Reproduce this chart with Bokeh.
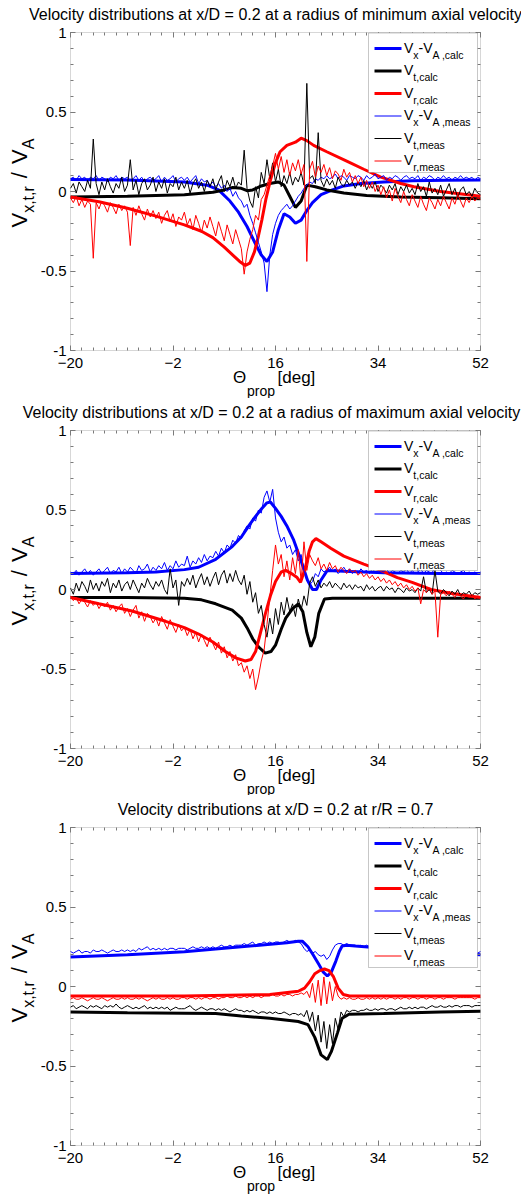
import math
from bokeh.plotting import figure
from bokeh.models import (Range1d, Label, FixedTicker, LinearAxis, BoxAnnotation,
                          CustomJSTickFormatter)
from bokeh.layouts import column
from bokeh.embed import file_html
from bokeh.resources import INLINE

# ---------------- data ----------------
TITLES = [
    "Velocity distributions at x/D = 0.2 at a radius of minimum axial velocity",
    "Velocity distributions at x/D = 0.2 at a radius of maximum axial velocity",
    "Velocity distributions at x/D = 0.2 at r/R = 0.7",
]
X_TICKS = [-20, -2, 16, 34, 52]
Y_TICKS = [-1, -0.5, 0, 0.5, 1]
Y_TICK_LABELS = ["-1", "-0.5", "0", "0.5", "1"]

# measurement grid (theta_prop, deg)
theta_meas = [-20 + 0.5 * i for i in range(145)]

# ---- panel 1 : radius of minimum axial velocity ----
p1_vx_calc_x = [-20, -10, 0, 4, 6, 8, 9.5, 11, 12.5, 13.5, 14.5, 15.5, 16.5, 17.5, 18.5, 19.5, 20.5, 21.5, 22.5, 24, 26, 28, 31, 35, 40, 46, 52]
p1_vx_calc_y = [0.075, 0.072, 0.06, 0.04, 0.01, -0.06, -0.13, -0.22, -0.33, -0.40, -0.44, -0.38, -0.24, -0.14, -0.16, -0.20, -0.18, -0.12, -0.07, -0.02, 0.01, 0.035, 0.05, 0.06, 0.068, 0.07, 0.072]
p1_vt_calc_x = [-20, -10, 0, 5, 7, 8.5, 10, 11, 12, 13.5, 15, 16.5, 17.5, 18.5, 19.5, 20.5, 21.5, 23, 25, 28, 32, 38, 45, 52]
p1_vt_calc_y = [-0.035, -0.03, -0.02, -0.005, 0.01, 0.025, 0.02, 0.005, 0.01, 0.035, 0.05, 0.06, 0.04, -0.03, -0.10, -0.06, 0.04, 0.03, 0.01, -0.01, -0.025, -0.035, -0.04, -0.045]
p1_vr_calc_x = [-20, -15, -10, -5, 0, 3, 5, 7, 8.5, 9.7, 10.7, 11.5, 12.3, 13, 13.6, 14.3, 15.1, 16, 16.8, 18, 19.5, 20.5, 21.5, 22.7, 25, 28.6, 31.5, 34.5, 38, 40.3, 45, 52]
p1_vr_calc_y = [-0.035, -0.065, -0.105, -0.155, -0.21, -0.25, -0.29, -0.35, -0.40, -0.44, -0.465, -0.45, -0.38, -0.28, -0.18, -0.05, 0.07, 0.18, 0.25, 0.29, 0.31, 0.335, 0.32, 0.29, 0.25, 0.19, 0.14, 0.09, 0.05, 0.03, 0.0, -0.03]
p1_vx_meas = [
    0.08, 0.09, 0.07, 0.10, 0.08, 0.09, 0.06, 0.09, 0.08, 0.10,
    0.07, 0.09, 0.08, 0.06, 0.09, 0.08, 0.10, 0.07, 0.09, 0.08,
    0.09, 0.07, 0.08, 0.10, 0.07, 0.09, 0.06, 0.08, 0.09, 0.07,
    0.08, 0.10, 0.06, 0.09, 0.07, 0.08, 0.10, 0.06, 0.08, 0.09,
    0.07, 0.09, 0.06, 0.08, 0.10, 0.05, 0.08, 0.06, 0.07, 0.04,
    0.06, 0.03, 0.05, 0.02, 0.04, 0.00, 0.02, -0.03, 0.00, -0.04,
    -0.06, -0.10, -0.08, -0.15, -0.20, -0.26, -0.32, -0.38, -0.45, -0.63,
    -0.40, -0.27, -0.20, -0.15, -0.12, -0.10, -0.08, -0.11, -0.09, -0.06,
    -0.03, -0.01, 0.02, 0.04, 0.06, 0.05, 0.08, 0.07, 0.09, 0.08,
    0.10, 0.08, 0.09, 0.11, 0.08, 0.10, 0.09, 0.07, 0.10, 0.09,
    0.08, 0.10, 0.09, 0.07, 0.10, 0.08, 0.09, 0.11, 0.08, 0.09,
    0.10, 0.07, 0.09, 0.08, 0.10, 0.09, 0.07, 0.09, 0.10, 0.08,
    0.09, 0.08, 0.10, 0.07, 0.09, 0.08, 0.10, 0.09, 0.07, 0.09,
    0.08, 0.10, 0.08, 0.09, 0.07, 0.09, 0.08, 0.10, 0.08, 0.09,
    0.08, 0.09, 0.07, 0.09, 0.08]
p1_vt_meas = [
    0.02, 0.05, -0.01, 0.06, 0.03, 0.00, 0.07, 0.02, 0.33, 0.05,
    -0.02, 0.06, 0.01, 0.08, 0.03, -0.01, 0.05, 0.02, 0.09, 0.00,
    0.04, 0.20, 0.01, 0.07, -0.02, 0.05, 0.08, 0.01, 0.04, 0.09,
    0.00, 0.06, 0.02, 0.08, -0.01, 0.05, 0.03, 0.09, 0.01, 0.06,
    0.02, 0.07, -0.01, 0.05, 0.08, 0.02, 0.06, 0.00, 0.07, 0.03,
    0.08, 0.01, 0.06, 0.10, 0.00, 0.07, 0.03, 0.09, 0.02, 0.06,
    0.04, 0.26, 0.02, -0.06, -0.10, 0.03, -0.04, 0.12, 0.05, 0.20,
    0.08, 0.18, 0.06, 0.14, 0.03, 0.10, 0.05, 0.12, 0.04, 0.09,
    0.06, 0.12, 0.04, 0.68, 0.08, 0.10, 0.05, 0.37, 0.07, 0.03,
    0.08, 0.04, 0.07, 0.02, 0.09, 0.05, 0.03, 0.07, 0.04, 0.06,
    0.02, 0.06, 0.03, 0.07, 0.01, 0.05, 0.02, 0.06, 0.00, 0.04,
    0.02, -0.01, 0.04, 0.01, 0.05, -0.02, 0.03, 0.00, 0.04, -0.01,
    0.02, -0.02, 0.05, 0.00, 0.03, -0.03, 0.06, -0.01, 0.02, -0.02,
    0.04, -0.03, 0.01, 0.05, -0.02, 0.02, -0.04, 0.01, 0.03, -0.02,
    0.00, -0.03, 0.02, -0.01, -0.02]
p1_vr_meas = [
    -0.04, -0.07, -0.03, -0.09, -0.05, -0.10, -0.06, -0.08, -0.42, -0.07,
    -0.11, -0.06, -0.09, -0.13, -0.07, -0.10, -0.14, -0.08, -0.12, -0.09,
    -0.13, -0.34, -0.10, -0.15, -0.09, -0.14, -0.18, -0.11, -0.16, -0.12,
    -0.17, -0.13, -0.20, -0.15, -0.12, -0.19, -0.14, -0.22, -0.16, -0.18,
    -0.13, -0.21, -0.17, -0.24, -0.15, -0.20, -0.26, -0.18, -0.23, -0.16,
    -0.22, -0.28, -0.19, -0.25, -0.31, -0.21, -0.27, -0.33, -0.24, -0.30,
    -0.36, -0.52, -0.38, -0.30, -0.24, -0.15, -0.18, -0.05, -0.02, 0.04,
    0.10, 0.16, 0.24, 0.14, 0.22, 0.12, 0.20, 0.10, 0.18, 0.13,
    0.20, 0.11, 0.17, -0.44, 0.14, 0.19, 0.09, 0.16, 0.12, 0.17,
    0.10, 0.15, 0.08, 0.13, 0.11, 0.07, 0.14, 0.09, 0.12, 0.06,
    0.10, 0.05, 0.09, 0.03, 0.07, 0.02, 0.06, 0.00, 0.04, -0.02,
    0.03, -0.04, 0.01, -0.06, 0.02, -0.03, -0.07, 0.00, -0.05, -0.09,
    -0.02, -0.06, -0.10, -0.03, -0.08, -0.12, -0.04, -0.07, -0.11, -0.05,
    -0.09, -0.03, -0.07, -0.11, -0.04, -0.08, -0.02, -0.06, -0.10, -0.04,
    -0.07, -0.03, -0.06, -0.04, -0.05]

# ---- panel 2 : radius of maximum axial velocity ----
p2_vx_calc_x = [-20, -10, -5, 0, 2.5, 5.5, 8.4, 10, 11.3, 12.5, 13.6, 14.5, 15.1, 16, 17, 18, 19.2, 20.4, 21.6, 22.5, 23.2, 24, 25.1, 28, 35, 45, 52]
p2_vx_calc_y = [0.10, 0.105, 0.11, 0.125, 0.14, 0.19, 0.27, 0.33, 0.40, 0.46, 0.51, 0.545, 0.55, 0.51, 0.46, 0.40, 0.31, 0.19, 0.06, 0.0, 0.0, 0.06, 0.12, 0.115, 0.105, 0.10, 0.10]
p2_vt_calc_x = [-20, -10, 0, 3, 5.5, 8.4, 10, 11, 12, 13, 14.2, 15.2, 16, 17, 17.8, 19, 20, 20.8, 21.5, 22.2, 22.9, 23.6, 24.6, 26, 35, 52]
p2_vt_calc_y = [-0.05, -0.05, -0.055, -0.065, -0.09, -0.13, -0.18, -0.24, -0.31, -0.36, -0.40, -0.39, -0.35, -0.25, -0.18, -0.12, -0.09, -0.14, -0.27, -0.36, -0.30, -0.15, -0.06, -0.055, -0.055, -0.055]
p2_vr_calc_x = [-20, -15, -9.2, -3.3, 0, 2.5, 5, 7.2, 9, 10.7, 11.7, 12.5, 13.3, 14.2, 15.1, 16, 17, 17.8, 18.8, 19.8, 20.4, 21.2, 21.9, 22.5, 23.1, 24, 25.7, 28, 31.5, 34.5, 37.4, 40, 43.3, 47, 52]
p2_vr_calc_y = [-0.05, -0.09, -0.135, -0.2, -0.24, -0.28, -0.33, -0.39, -0.43, -0.45, -0.44, -0.39, -0.28, -0.155, -0.04, 0.05, 0.11, 0.12, 0.10, 0.075, 0.045, 0.13, 0.24, 0.30, 0.32, 0.30, 0.26, 0.21, 0.16, 0.12, 0.075, 0.045, 0.0, -0.025, -0.05]
p2_vx_meas = [
    0.11, 0.10, 0.12, 0.09, 0.11, 0.13, 0.10, 0.12, 0.09, 0.11,
    0.13, 0.10, 0.12, 0.14, 0.10, 0.12, 0.11, 0.14, 0.10, 0.13,
    0.11, 0.14, 0.12, 0.10, 0.15, 0.12, 0.13, 0.16, 0.11, 0.14,
    0.12, 0.15, 0.13, 0.17, 0.12, 0.15, 0.13, 0.18, 0.14, 0.16,
    0.15, 0.21, 0.14, 0.18, 0.16, 0.20, 0.17, 0.22, 0.18, 0.21,
    0.20, 0.24, 0.21, 0.26, 0.23, 0.28, 0.26, 0.31, 0.29, 0.34,
    0.32, 0.37, 0.40, 0.38, 0.45, 0.43, 0.50, 0.48, 0.58, 0.62,
    0.55, 0.63, 0.45, 0.36, 0.30, 0.33, 0.26, 0.28, 0.22, 0.25,
    0.18, 0.22, 0.12, 0.06, 0.03, 0.05, 0.10, 0.08, 0.13, 0.11,
    0.12, 0.14, 0.11, 0.13, 0.10, 0.12, 0.14, 0.11, 0.13, 0.10,
    0.12, 0.10, 0.13, 0.11, 0.12, 0.10, 0.13, 0.11, 0.10, 0.12,
    0.11, 0.13, 0.10, 0.12, 0.11, 0.10, 0.12, 0.11, 0.13, 0.10,
    0.12, 0.10, 0.11, 0.13, 0.10, 0.12, 0.11, 0.10, 0.15, 0.17,
    0.12, 0.10, 0.11, 0.10, 0.12, 0.11, 0.10, 0.11, 0.12, 0.10,
    0.11, 0.10, 0.11, 0.10, 0.11]
p2_vt_meas = [
    0.01, -0.03, 0.04, -0.01, 0.05, 0.02, -0.02, 0.06, 0.00, 0.04,
    -0.01, 0.05, 0.02, 0.07, -0.02, 0.04, 0.01, 0.06, -0.01, 0.03,
    0.05, 0.00, 0.06, 0.02, -0.02, 0.04, 0.01, 0.07, 0.03, 0.00,
    0.05, 0.02, 0.06, 0.00, -0.03, 0.13, 0.01, 0.06, -0.10, 0.05,
    0.02, 0.07, 0.03, 0.09, 0.01, 0.06, 0.10, 0.03, 0.08, 0.02,
    0.07, 0.11, 0.03, 0.09, 0.12, 0.04, 0.10, 0.05, 0.12, 0.06,
    0.03, 0.09, -0.03, 0.05, -0.08, -0.02, -0.15, -0.10, -0.22, -0.30,
    -0.18, -0.28, -0.12, -0.22, -0.08, -0.16, -0.05, -0.14, -0.09, -0.17,
    -0.06, -0.13, -0.04, -0.10, 0.04, 0.08, 0.02, 0.06, 0.01, 0.04,
    0.02, 0.05, 0.01, 0.04, 0.02, 0.00, 0.04, 0.01, 0.03, 0.00,
    0.03, 0.01, 0.02, -0.01, 0.03, 0.00, 0.02, -0.01, 0.01, 0.02,
    -0.01, 0.02, 0.00, 0.01, -0.02, 0.01, 0.00, -0.02, 0.01, -0.01,
    0.00, -0.02, 0.01, -0.01, 0.08, -0.02, 0.00, -0.03, 0.12, -0.01,
    -0.03, 0.00, -0.02, -0.04, -0.01, -0.03, 0.00, -0.04, -0.02, -0.03,
    -0.01, -0.04, -0.02, -0.03, -0.02]
p2_vr_meas = [
    -0.04, -0.07, -0.05, -0.09, -0.06, -0.08, -0.11, -0.07, -0.10, -0.08,
    -0.12, -0.09, -0.11, -0.08, -0.13, -0.10, -0.14, -0.11, -0.09, -0.15,
    -0.12, -0.17, -0.13, -0.10, -0.18, -0.14, -0.20, -0.15, -0.17, -0.21,
    -0.18, -0.23, -0.17, -0.21, -0.25, -0.19, -0.23, -0.27, -0.22, -0.26,
    -0.24, -0.29, -0.25, -0.31, -0.27, -0.33, -0.28, -0.32, -0.36, -0.30,
    -0.34, -0.38, -0.33, -0.40, -0.36, -0.43, -0.39, -0.45, -0.41, -0.48,
    -0.46, -0.52, -0.48, -0.56, -0.50, -0.63, -0.55, -0.45, -0.38, -0.22,
    -0.05, 0.12, 0.28, 0.16, 0.22, 0.08, 0.18, 0.06, 0.20, 0.10,
    0.25, 0.05, 0.30, 0.12, 0.22, 0.18, 0.15, 0.20, 0.13, 0.16,
    0.12, 0.17, 0.13, 0.15, 0.11, 0.14, 0.12, 0.10, 0.13, 0.11,
    0.12, 0.09, 0.11, 0.08, 0.10, 0.07, 0.09, 0.06, 0.08, 0.05,
    0.07, 0.04, 0.06, 0.03, 0.05, 0.02, 0.04, 0.01, 0.03, 0.00,
    0.02, -0.01, 0.01, -0.09, 0.00, -0.02, 0.01, -0.03, -0.01, -0.30,
    -0.03, -0.02, -0.04, -0.01, -0.03, -0.05, -0.02, -0.04, -0.06, -0.03,
    -0.05, -0.03, -0.06, -0.04, -0.05]

# ---- panel 3 : r/R = 0.7 ----
p3_vx_calc_x = [-20, -10, 0, 10, 18, 20, 20.7, 21.7, 22.6, 23.6, 24.4, 25.1, 25.8, 26.6, 27.2, 27.7, 28.5, 30, 35, 40, 45, 52]
p3_vx_calc_y = [0.185, 0.20, 0.218, 0.25, 0.275, 0.285, 0.285, 0.25, 0.20, 0.14, 0.09, 0.066, 0.09, 0.16, 0.22, 0.255, 0.26, 0.255, 0.24, 0.225, 0.21, 0.20]
p3_vt_calc_x = [-20, -10, 0, 5.5, 10, 15, 20, 21.7, 22.9, 24, 25.1, 25.8, 26.9, 27.7, 28.9, 35, 45, 52]
p3_vt_calc_y = [-0.16, -0.165, -0.168, -0.17, -0.185, -0.20, -0.22, -0.24, -0.32, -0.43, -0.46, -0.41, -0.29, -0.20, -0.175, -0.17, -0.16, -0.155]
p3_vr_calc_x = [-20, 0, 15, 20, 21.1, 22, 22.9, 23.8, 24.6, 25.4, 26.2, 27, 27.9, 29, 40, 52]
p3_vr_calc_y = [-0.06, -0.06, -0.05, -0.03, -0.01, 0.03, 0.08, 0.10, 0.11, 0.10, 0.06, -0.01, -0.05, -0.06, -0.06, -0.06]
p3_vx_meas = [
    0.22, 0.21, 0.22, 0.23, 0.21, 0.22, 0.22, 0.21, 0.23, 0.22,
    0.22, 0.23, 0.22, 0.21, 0.22, 0.23, 0.22, 0.22, 0.23, 0.22,
    0.23, 0.22, 0.23, 0.22, 0.24, 0.23, 0.24, 0.25, 0.23, 0.24,
    0.23, 0.24, 0.23, 0.24, 0.23, 0.24, 0.24, 0.23, 0.24, 0.24,
    0.24, 0.23, 0.24, 0.25, 0.24, 0.24, 0.25, 0.24, 0.25, 0.24,
    0.25, 0.24, 0.25, 0.26, 0.25, 0.25, 0.26, 0.25, 0.26, 0.26,
    0.26, 0.27, 0.26, 0.27, 0.28, 0.26, 0.27, 0.27, 0.28, 0.27,
    0.28, 0.27, 0.28, 0.28, 0.27, 0.28, 0.29, 0.28, 0.28, 0.29,
    0.28, 0.27, 0.24, 0.22, 0.23, 0.21, 0.22, 0.20, 0.19, 0.20,
    0.17, 0.19, 0.23, 0.26, 0.27, 0.27, 0.26, 0.27, 0.26, 0.26,
    0.26, 0.25, 0.26, 0.25, 0.26, 0.25, 0.25, 0.26, 0.25, 0.25,
    0.25, 0.24, 0.25, 0.25, 0.24, 0.25, 0.24, 0.24, 0.25, 0.24,
    0.24, 0.24, 0.23, 0.24, 0.24, 0.23, 0.24, 0.23, 0.23, 0.24,
    0.23, 0.23, 0.22, 0.23, 0.23, 0.22, 0.23, 0.22, 0.22, 0.23,
    0.22, 0.22, 0.22, 0.21, 0.22]
p3_vt_meas = [
    -0.13, -0.12, -0.14, -0.13, -0.12, -0.13, -0.14, -0.12, -0.13, -0.12,
    -0.13, -0.14, -0.12, -0.13, -0.12, -0.13, -0.11, -0.13, -0.14, -0.13,
    -0.12, -0.13, -0.14, -0.13, -0.14, -0.13, -0.12, -0.14, -0.13, -0.14,
    -0.13, -0.14, -0.13, -0.14, -0.13, -0.15, -0.14, -0.13, -0.14, -0.14,
    -0.14, -0.13, -0.12, -0.14, -0.15, -0.14, -0.13, -0.14, -0.15, -0.14,
    -0.14, -0.15, -0.14, -0.15, -0.14, -0.15, -0.16, -0.15, -0.14, -0.15,
    -0.15, -0.16, -0.15, -0.16, -0.15, -0.16, -0.17, -0.16, -0.16, -0.17,
    -0.16, -0.17, -0.16, -0.17, -0.17, -0.16, -0.17, -0.18, -0.17, -0.17,
    -0.18, -0.17, -0.19, -0.15, -0.22, -0.16, -0.28, -0.18, -0.35, -0.22,
    -0.39, -0.24, -0.36, -0.20, -0.27, -0.16, -0.19, -0.15, -0.16, -0.15,
    -0.15, -0.16, -0.15, -0.15, -0.14, -0.15, -0.15, -0.14, -0.15, -0.14,
    -0.14, -0.15, -0.14, -0.14, -0.15, -0.14, -0.13, -0.14, -0.14, -0.13,
    -0.14, -0.13, -0.14, -0.13, -0.13, -0.14, -0.13, -0.12, -0.13, -0.13,
    -0.12, -0.13, -0.13, -0.12, -0.13, -0.12, -0.12, -0.13, -0.12, -0.12,
    -0.12, -0.13, -0.12, -0.12, -0.12]
p3_vr_meas = [
    -0.08, -0.07, -0.08, -0.08, -0.07, -0.08, -0.09, -0.08, -0.07, -0.08,
    -0.08, -0.07, -0.08, -0.09, -0.08, -0.07, -0.08, -0.08, -0.07, -0.08,
    -0.07, -0.08, -0.08, -0.07, -0.08, -0.07, -0.08, -0.09, -0.08, -0.07,
    -0.08, -0.07, -0.08, -0.08, -0.07, -0.08, -0.07, -0.08, -0.08, -0.07,
    -0.07, -0.08, -0.07, -0.07, -0.08, -0.07, -0.08, -0.07, -0.07, -0.08,
    -0.07, -0.07, -0.08, -0.07, -0.07, -0.06, -0.07, -0.07, -0.06, -0.07,
    -0.07, -0.06, -0.07, -0.06, -0.07, -0.06, -0.06, -0.07, -0.06, -0.06,
    -0.06, -0.05, -0.06, -0.06, -0.05, -0.06, -0.05, -0.05, -0.06, -0.05,
    -0.05, -0.04, -0.05, -0.03, -0.07, 0.02, -0.10, 0.04, -0.12, 0.06,
    -0.11, 0.03, -0.09, 0.00, -0.06, -0.08, -0.07, -0.08, -0.07, -0.08,
    -0.08, -0.07, -0.08, -0.08, -0.07, -0.08, -0.07, -0.08, -0.07, -0.08,
    -0.07, -0.08, -0.07, -0.07, -0.08, -0.07, -0.08, -0.07, -0.07, -0.08,
    -0.07, -0.07, -0.08, -0.07, -0.07, -0.08, -0.07, -0.07, -0.08, -0.07,
    -0.07, -0.08, -0.07, -0.07, -0.07, -0.08, -0.07, -0.07, -0.07, -0.07,
    -0.07, -0.07, -0.08, -0.07, -0.07]

PANELS = [
    dict(calc=[(p1_vx_calc_x, p1_vx_calc_y), (p1_vt_calc_x, p1_vt_calc_y), (p1_vr_calc_x, p1_vr_calc_y)],
         meas=[p1_vx_meas, p1_vt_meas, p1_vr_meas]),
    dict(calc=[(p2_vx_calc_x, p2_vx_calc_y), (p2_vt_calc_x, p2_vt_calc_y), (p2_vr_calc_x, p2_vr_calc_y)],
         meas=[p2_vx_meas, p2_vt_meas, p2_vr_meas]),
    dict(calc=[(p3_vx_calc_x, p3_vx_calc_y), (p3_vt_calc_x, p3_vt_calc_y), (p3_vr_calc_x, p3_vr_calc_y)],
         meas=[p3_vx_meas, p3_vt_meas, p3_vr_meas]),
]

# ---------------- style / layout ----------------
FONT = "Liberation Sans"
COLORS = ["#0000ff", "#000000", "#ff0000"]
AXC = "#7a7a7a"
W = 521
FL, FR, FT, FH = 70, 41, 32, 318      # data box inside each canvas (px)
FW = W - FL - FR
HEIGHTS = [398, 397, 401]
X0, X1, Y0, Y1 = -20.0, 52.0, -1.0, 1.0
TITLE_CX = [275, 271, 275]

# Arial / Liberation Sans advance widths (per 1000 em)
CW = {" ": 278, ",": 278, "-": 333, "/": 278, "A": 667, "V": 667, "a": 556, "c": 500,
      "e": 556, "l": 222, "m": 833, "s": 500, "r": 333, "t": 278, "x": 500}


def tw(s, size):
    return sum(CW.get(ch, 556) for ch in s) * size / 1000.0


def px2x(px):
    return X0 + (px - FL) * (X1 - X0) / FW


def py2y(py):
    return Y1 - (py - FT) * (Y1 - Y0) / FH


def txt(p, px, py, text, size, align="left", angle=0.0, color="black"):
    p.add_layout(Label(x=px2x(px), y=py2y(py), text=text, text_font=FONT,
                       text_font_size=f"{size}px", text_align=align,
                       text_baseline="middle", angle=angle, text_color=color,
                       level="overlay"))


LEG_MAIN, LEG_SUB = 14, 10.5
LEGEND = [
    (0, 3.0, [("V", "m"), ("x", "s"), ("-V", "m"), ("A ,calc", "s")]),
    (1, 3.0, [("V", "m"), ("t,calc", "s")]),
    (2, 3.0, [("V", "m"), ("r,calc", "s")]),
    (0, 1.0, [("V", "m"), ("x", "s"), ("-V", "m"), ("A ,meas", "s")]),
    (1, 1.0, [("V", "m"), ("t,meas", "s")]),
    (2, 1.0, [("V", "m"), ("r,meas", "s")]),
]
# y label pieces: (text, kind, gap before in px)
YLABEL = [("V", "m", 0), ("x,t,r", "s", 0), ("/", "m", 8), ("V", "m", 8), ("A", "s", 0)]


def build(i):
    h = HEIGHTS[i]
    p = figure(width=W, height=h,
               x_range=Range1d(px2x(0), px2x(W)), y_range=Range1d(py2y(h), py2y(0)),
               output_backend="svg", toolbar_location=None, title=None,
               min_border_left=0, min_border_right=0, min_border_top=0, min_border_bottom=0)
    p.xgrid.visible = False
    p.ygrid.visible = False
    p.outline_line_color = None
    p.background_fill_color = "white"
    p.border_fill_color = "white"

    bottom_ax = p.below[0]
    left_ax = p.left[0]
    top_ax = LinearAxis()
    right_ax = LinearAxis()
    p.add_layout(top_ax, "above")
    p.add_layout(right_ax, "right")
    bottom_ax.fixed_location = Y0
    top_ax.fixed_location = Y1
    left_ax.fixed_location = X0
    right_ax.fixed_location = X1

    x_minor = list(range(-20, 53, 2))
    y_minor = [round(-1 + 0.1 * k, 1) for k in range(21)]
    for ax in (bottom_ax, top_ax):
        ax.ticker = FixedTicker(ticks=X_TICKS, minor_ticks=x_minor)
    for ax in (left_ax, right_ax):
        ax.ticker = FixedTicker(ticks=Y_TICKS, minor_ticks=y_minor)
    for ax in (bottom_ax, top_ax, left_ax, right_ax):
        ax.axis_line_color = None
        ax.major_tick_line_color = AXC
        ax.minor_tick_line_color = AXC
        ax.major_tick_in = 5
        ax.major_tick_out = 0
        ax.minor_tick_in = 3
        ax.minor_tick_out = 0
        ax.major_label_text_font = FONT
        ax.major_label_text_font_size = "15px"
        ax.major_label_text_color = "black"
        ax.major_label_standoff = 5
        ax.axis_label = None
    bottom_ax.major_label_standoff = 7
    left_ax.major_label_standoff = 4
    for ax in (top_ax, right_ax):
        ax.formatter = CustomJSTickFormatter(code="return ''")
    left_ax.major_label_overrides = {t: s for t, s in zip(Y_TICKS, Y_TICK_LABELS)}

    # data box outline
    p.add_layout(BoxAnnotation(left=X0, right=X1, bottom=Y0, top=Y1, fill_alpha=0,
                               fill_color=None, line_color=AXC, line_width=1))

    data = PANELS[i]
    for (xs, ys), c in zip(data["calc"], COLORS):
        p.line(xs, ys, line_color=c, line_width=3)
    for ys, c in zip(data["meas"], COLORS):
        p.line(theta_meas, ys, line_color=c, line_width=1)

    # title
    txt(p, TITLE_CX[i], 14, TITLES[i], 16, align="center")
    # x label
    yb = FT + FH
    txt(p, 239, yb + 27, "\u0398", 17, align="center")
    txt(p, 246.5, yb + 40, "prop", 14)
    txt(p, 277, yb + 27, "[deg]", 17)
    # y label (rotated, reading bottom to top)
    a = math.pi / 2
    m, s = 22, 16
    pos = 227.0
    for piece, kind, gap in YLABEL:
        size = m if kind == "m" else s
        xc = 19 if kind == "m" else 28
        pos -= gap
        txt(p, xc, pos, piece, size, align="left", angle=a)
        pos -= tw(piece, size)

    # legend
    p.add_layout(BoxAnnotation(left=px2x(368), right=px2x(477), top=py2y(FT + 0.5),
                               bottom=py2y(FT + 140), fill_color="white", fill_alpha=1.0,
                               line_color="#444444", line_width=1))
    for r, (ci, lw, parts) in enumerate(LEGEND):
        ry = FT + 16 + 22.5 * r
        p.line([px2x(374), px2x(401)], [py2y(ry), py2y(ry)], line_color=COLORS[ci],
               line_width=lw, level="overlay")
        xx = 403.5
        for piece, kind in parts:
            if kind == "m":
                txt(p, xx, ry - 1, piece, LEG_MAIN)
                xx += tw(piece, LEG_MAIN)
            else:
                txt(p, xx, ry + 6, piece, LEG_SUB)
                xx += tw(piece, LEG_SUB)
    return p


plots = [build(i) for i in range(3)]
layout = column(*plots, spacing=0)
open("out.html", "w").write(file_html(layout, INLINE))
